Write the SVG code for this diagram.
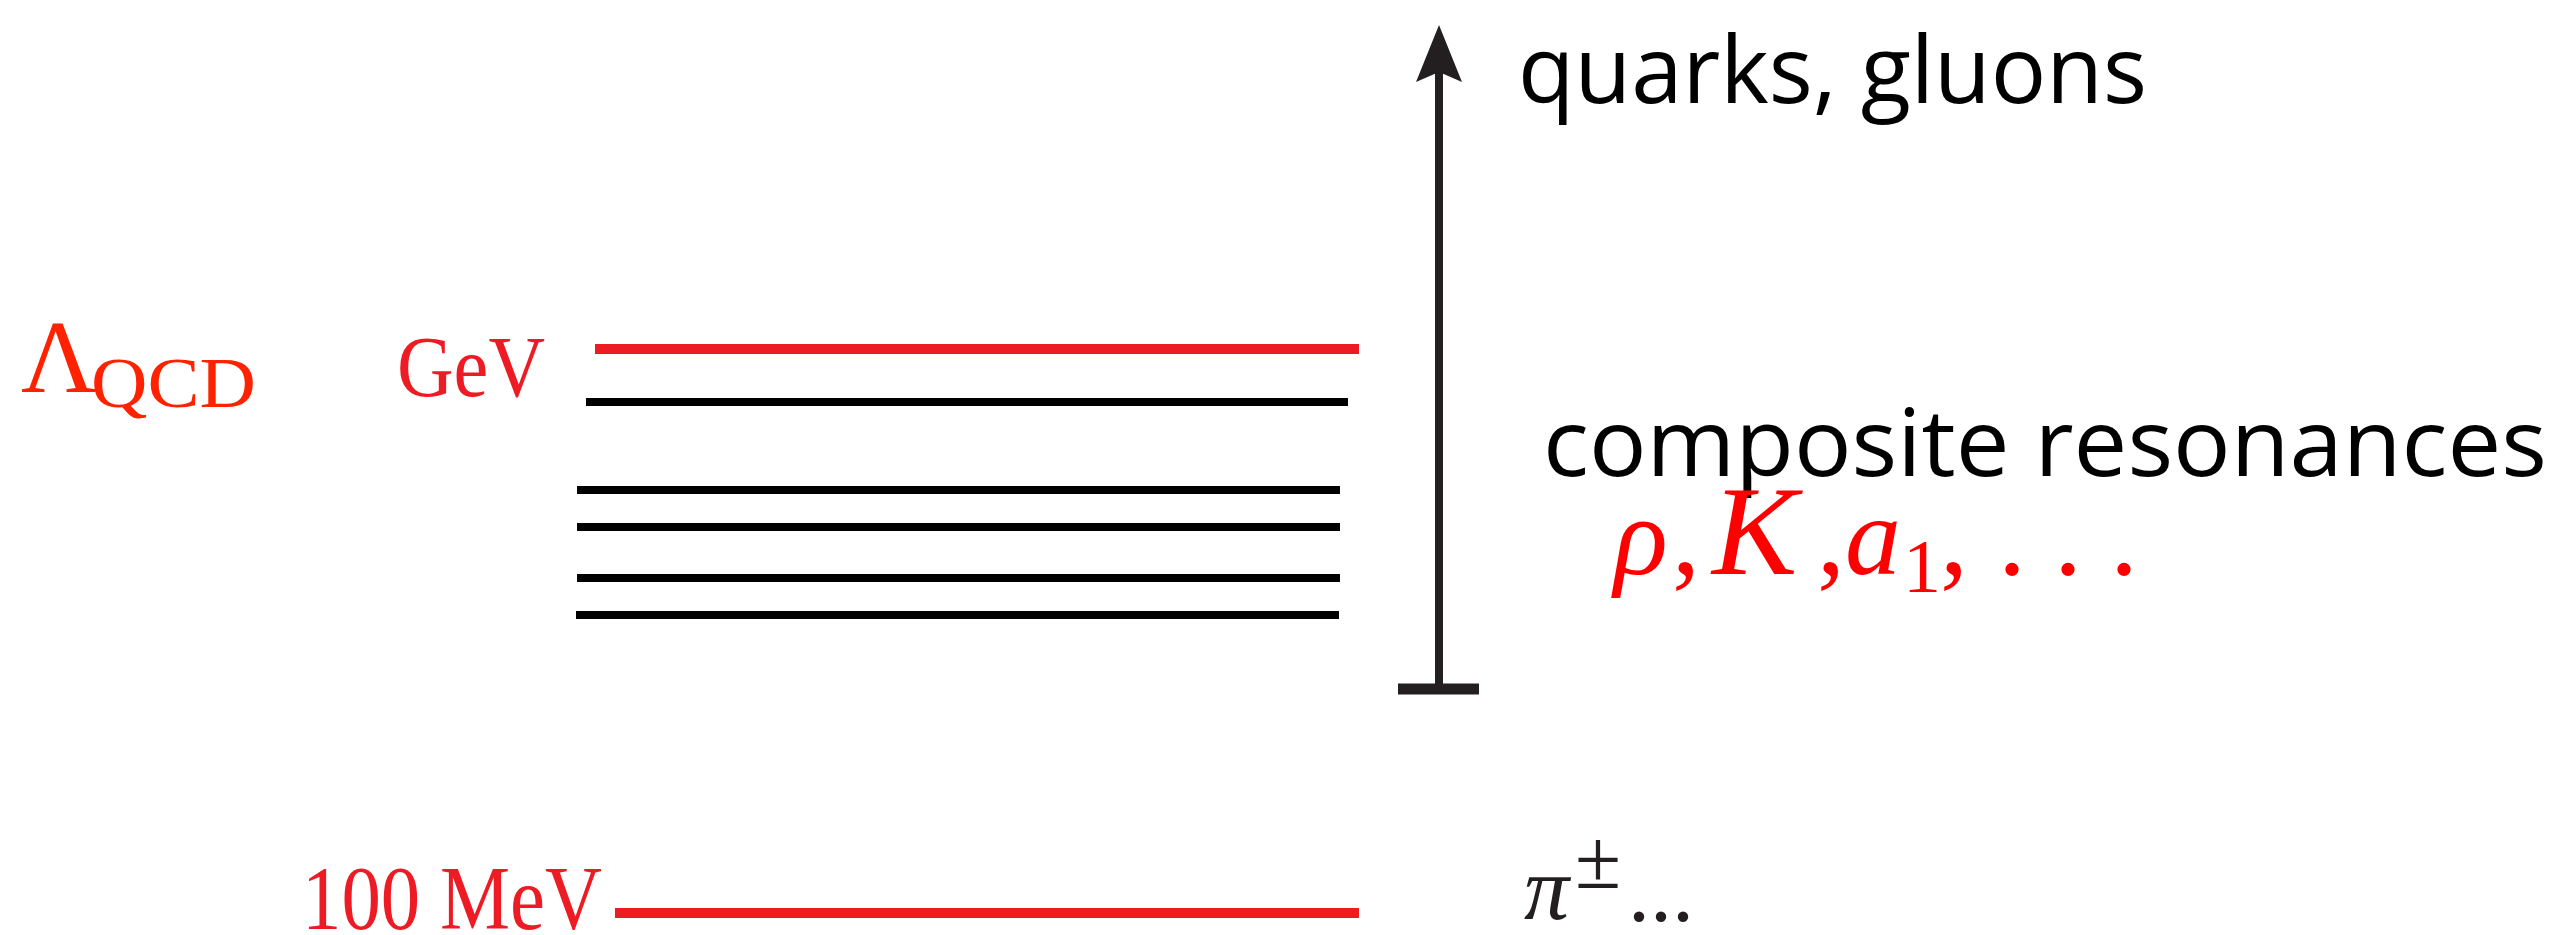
<svg xmlns="http://www.w3.org/2000/svg" width="2573" height="935" viewBox="0 0 2573 935">
<style>
.lvl{stroke-linecap:butt}
.red{stroke:#ed1c24;stroke-width:10}
.blk{stroke:#000;stroke-width:8}
.sans{font-family:"Open Sans","Lato",sans-serif;fill:#000}
.math{font-family:"Liberation Serif","DejaVu Serif",serif}
.res{fill:#ff0000}
</style>
<rect width="2573" height="935" fill="#fff"/>
<g id="levels">
<line id="gev-line" class="lvl red" x1="595" y1="349" x2="1359" y2="349"/>
<line id="l2" class="lvl blk" x1="586" y1="402" x2="1348" y2="402"/>
<line id="l3" class="lvl blk" x1="577" y1="490" x2="1340" y2="490"/>
<line id="l4" class="lvl blk" x1="577" y1="527" x2="1340" y2="527"/>
<line id="l5" class="lvl blk" x1="577" y1="578" x2="1340" y2="578"/>
<line id="l6" class="lvl blk" x1="576" y1="615" x2="1339" y2="615"/>
<line id="mev-line" class="lvl red" x1="615" y1="913" x2="1359" y2="913"/>
</g>
<g id="connectors">
<line x1="1439" y1="689" x2="1439" y2="70" stroke="#231f20" stroke-width="8"/>
<polygon points="1439,25 1462,82 1439,72 1416,82" fill="#231f20"/>
<line x1="1398" y1="689" x2="1479" y2="689" stroke="#231f20" stroke-width="11"/>
</g>
<g id="lambda-qcd">
<text class="math" x="21" y="392" font-size="104" fill="#ff2200">Λ<tspan x="91" dy="15" font-size="72" textLength="165" lengthAdjust="spacingAndGlyphs">QCD</tspan></text>
</g>
<g id="gev">
<text class="math" x="397" y="396" font-size="86" fill="#ed1c24" textLength="148" lengthAdjust="spacingAndGlyphs">GeV</text>
</g>
<g id="mev">
<text class="math" transform="translate(302,929) scale(0.857,1)" x="0" y="0" font-size="92" fill="#ed1c24">100 MeV</text>
</g>
<g id="quarks">
<text class="sans" x="1518" y="103" font-size="94" textLength="629" lengthAdjust="spacingAndGlyphs">quarks, gluons</text>
</g>
<g id="composite">
<text class="sans" x="1543" y="476" font-size="94" textLength="1004" lengthAdjust="spacingAndGlyphs">composite resonances</text>
</g>
<g id="resonances">
<text class="math res" x="1614" y="574" font-size="112" font-style="italic">ρ</text>
<text class="math res" x="1672" y="574" font-size="112">,</text>
<text class="math res" x="1712" y="574" font-size="128" font-style="italic">K</text>
<text class="math res" x="1817" y="574" font-size="112">,</text>
<text class="math res" x="1845" y="574" font-size="112" font-style="italic">a</text>
<text class="math res" x="1903" y="592" font-size="76">1</text>
<text class="math res" x="1940" y="574" font-size="112">,</text>
<text class="math res" x="1998" y="574" font-size="112">. . .</text>
</g>
<g id="pion">
<text class="math" x="1524" y="919" font-size="90" font-style="italic" fill="#231f20">π</text>
<text class="math" x="1575" y="888" font-size="84" fill="#231f20">±</text>
<text class="math" x="1628" y="921" font-size="88" fill="#231f20">...</text>
</g>
</svg>
